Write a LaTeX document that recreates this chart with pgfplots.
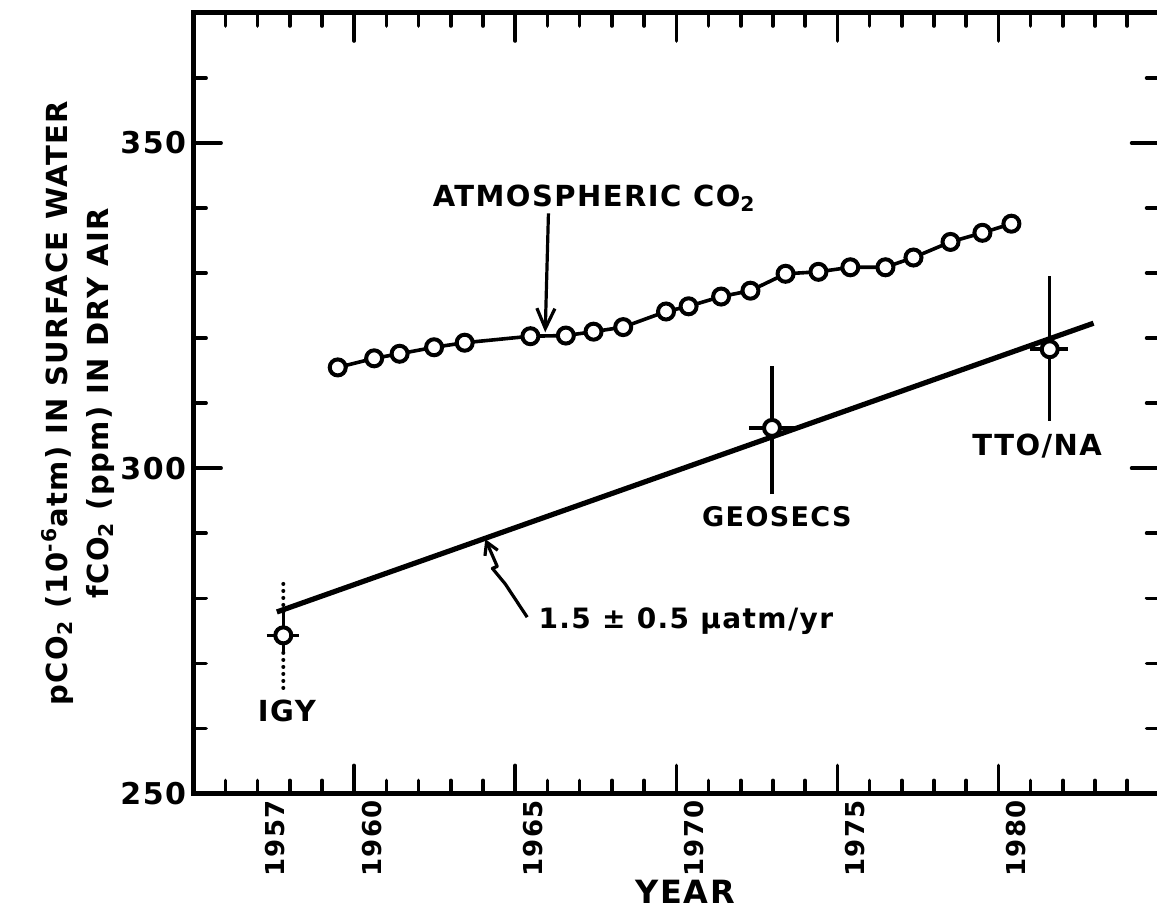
\documentclass[border=0pt]{standalone}
\usepackage{fontspec}
\setmainfont{DejaVu Sans}[LetterSpace=5]
\usepackage{pgfplots}
\pgfplotsset{compat=1.18}
\usetikzlibrary{arrows.meta}

\newcommand{\fs}[1]{\fontsize{#1}{#1}\selectfont\bfseries}

\begin{document}
\begin{tikzpicture}
\begin{axis}[
  scale only axis, width=483pt, height=390pt,
  xmin=1955, xmax=1985, ymin=250, ymax=370,
  axis line style={line width=2.5pt, line join=miter},
  xtick={1960,1965,1970,1975,1980}, xticklabels={},
  minor xtick={1955,...,1985},
  extra x ticks={1957.55,1960.55,1965.55,1970.55,1975.55,1980.55},
  extra x tick labels={1957,1960,1965,1970,1975,1980},
  extra x tick style={major tick length=0pt},
  ytick={250,300,350}, minor ytick={250,260,...,370},
  major tick length=14pt, minor tick length=6.5pt,
  tick style={black, line width=1.8pt, line cap=round},
  xticklabel style={rotate=90, anchor=east, font=\fs{13pt}},
  yticklabel style={font=\fs{15pt}},
  /pgf/number format/assume math mode=true,
  xlabel={YEAR},
  xlabel style={font=\fs{16pt}, at={(axis description cs:0.509,0)}, anchor=base, yshift=-55pt},
]
% fitted trend in surface-water pCO2
\addplot[no marks, line width=2.6pt] coordinates {(1957.60,277.9) (1982.95,322.3)};

% atmospheric CO2 record
\addplot[line width=1.8pt, mark=*, mark size=4pt,
         mark options={draw=black, fill=white, line width=2pt}] table {
1959.49 315.5
1960.62 316.9
1961.41 317.6
1962.48 318.6
1963.43 319.3
1965.47 320.3
1966.57 320.4
1967.43 321.0
1968.35 321.7
1969.68 324.1
1970.38 324.9
1971.39 326.4
1972.30 327.3
1973.39 329.9
1974.41 330.2
1975.40 330.9
1976.49 330.9
1977.36 332.4
1978.51 334.8
1979.50 336.2
1980.40 337.6
};

% IGY uncertainty (solid core, dotted extension)
\addplot[no marks, line width=1.6pt] coordinates {(1957.80,271.6) (1957.80,277.9)};
\addplot[no marks, line width=2pt, line cap=round, dash pattern=on 0pt off 3.5pt]
  coordinates {(1957.80,277.9) (1957.80,282.5)};
\addplot[no marks, line width=2pt, line cap=round, dash pattern=on 0pt off 3.5pt]
  coordinates {(1957.80,271.6) (1957.80,266.2)};
\addplot[no marks, line width=1.8pt] coordinates {(1957.28,274.3) (1958.29,274.3)};
% GEOSECS uncertainty
\addplot[no marks, line width=1.6pt] coordinates {(1972.97,296.0) (1972.97,315.7)};
\addplot[no marks, line width=1.8pt] coordinates {(1972.25,306.2) (1973.70,306.2)};
% TTO/NA uncertainty
\addplot[no marks, line width=1.6pt] coordinates {(1981.59,307.3) (1981.59,329.5)};
\addplot[no marks, line width=1.8pt] coordinates {(1980.99,318.3) (1982.17,318.3)};

% survey means
\addplot[only marks, mark=*, mark size=4pt,
         mark options={draw=black, fill=white, line width=2pt}]
  coordinates {(1957.80,274.3) (1972.97,306.2) (1981.59,318.3)};

% annotations
\node[font=\fs{14.5pt}, anchor=base] at (axis cs:1967.45,340.2) {ATMOSPHERIC CO\textsubscript{2}};
\draw[line width=1.6pt, -{Straight Barb[length=10pt,width=9pt]}]
  (axis cs:1966.03,339.2) -- (axis cs:1965.93,320.9);
\node[font=\fs{13.5pt}, anchor=base] at (axis cs:1973.12,291.0) {GEOSECS};
\node[font=\fs{14.5pt}, anchor=base] at (axis cs:1981.20,301.9) {TTO/NA};
\node[font=\fs{14.5pt}, anchor=base] at (axis cs:1957.91,261.1) {IGY};
\node[font=\fs{14pt}, anchor=base west, inner sep=0pt] at (axis cs:1965.71,275.4) {1.5 ± 0.5 μatm/yr};
\draw[line width=1.6pt, line join=round, -{Straight Barb[length=6pt,width=7pt]}]
  (axis cs:1965.37,277.1) -- (axis cs:1964.69,282.2) -- (axis cs:1964.29,284.6)
  -- (axis cs:1964.44,284.9) -- (axis cs:1964.07,289.1);
\end{axis}

% two-line y-axis title
\node[rotate=90, anchor=base, font=\fs{14.5pt}] at ([xshift=-63pt]current axis.west)
  {pCO\textsubscript{2} (10\textsuperscript{-6}atm) IN SURFACE WATER};
\node[rotate=90, anchor=base, font=\fs{14.5pt}] at ([xshift=-42.5pt]current axis.west)
  {fCO\textsubscript{2} (ppm) IN DRY AIR};

\pgfresetboundingbox
\path[use as bounding box] ([xshift=-96.5pt,yshift=-57.5pt]current axis.south west)
  rectangle ([xshift=-1.3pt,yshift=6.5pt]current axis.north east);
\end{tikzpicture}
\end{document}
